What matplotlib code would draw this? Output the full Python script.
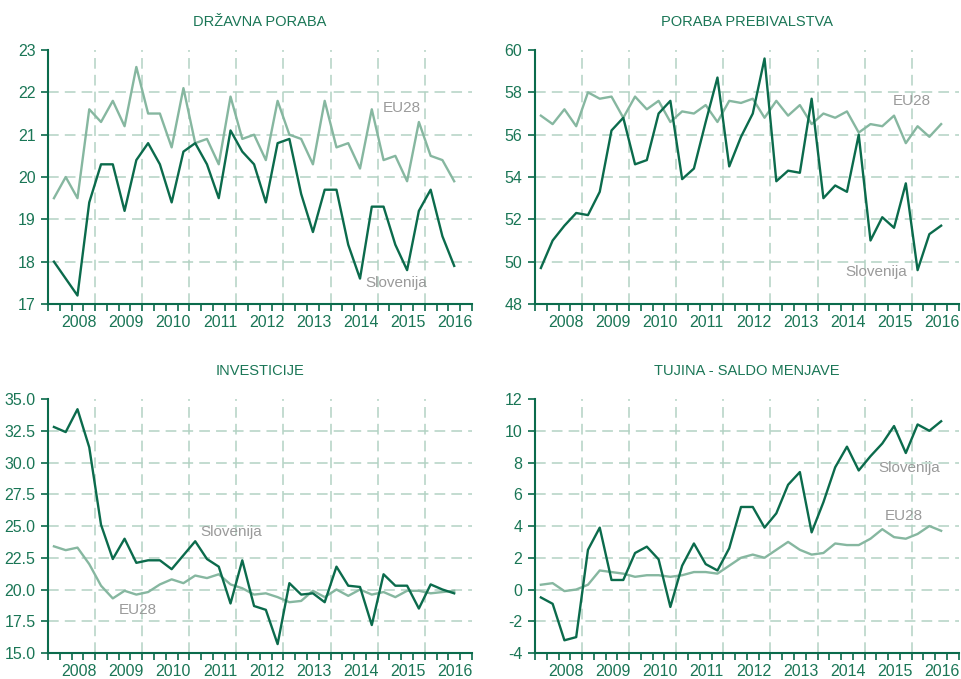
import numpy as np
import matplotlib
matplotlib.use("Agg")
import matplotlib.pyplot as plt

plt.rcParams['font.family'] = ['Liberation Sans Narrow', 'Liberation Sans', 'DejaVu Sans']

# četrtletja 2008Q1 - 2016Q3
years = ["2008", "2009", "2010", "2011", "2012", "2013", "2014", "2015", "2016"]

drz_slo = [18.0, 17.6, 17.2, 19.4, 20.3, 20.3, 19.2, 20.4, 20.8, 20.3, 19.4, 20.6,
           20.8, 20.3, 19.5, 21.1, 20.6, 20.3, 19.4, 20.8, 20.9, 19.6, 18.7, 19.7,
           19.7, 18.4, 17.6, 19.3, 19.3, 18.4, 17.8, 19.2, 19.7, 18.6, 17.9]
drz_eu = [19.5, 20.0, 19.5, 21.6, 21.3, 21.8, 21.2, 22.6, 21.5, 21.5, 20.7, 22.1,
          20.8, 20.9, 20.3, 21.9, 20.9, 21.0, 20.4, 21.8, 21.0, 20.9, 20.3, 21.8,
          20.7, 20.8, 20.2, 21.6, 20.4, 20.5, 19.9, 21.3, 20.5, 20.4, 19.9]

preb_slo = [49.7, 51.0, 51.7, 52.3, 52.2, 53.3, 56.2, 56.8, 54.6, 54.8, 57.0, 57.6,
            53.9, 54.4, 56.6, 58.7, 54.5, 55.9, 57.0, 59.6, 53.8, 54.3, 54.2, 57.7,
            53.0, 53.6, 53.3, 56.0, 51.0, 52.1, 51.6, 53.7, 49.6, 51.3, 51.7]
preb_eu = [56.9, 56.5, 57.2, 56.4, 58.0, 57.7, 57.8, 56.8, 57.8, 57.2, 57.6, 56.6,
           57.1, 57.0, 57.4, 56.6, 57.6, 57.5, 57.7, 56.8, 57.6, 56.9, 57.4, 56.5,
           57.0, 56.8, 57.1, 56.1, 56.5, 56.4, 56.9, 55.6, 56.4, 55.9, 56.5]

inv_slo = [32.8, 32.4, 34.2, 31.2, 25.1, 22.4, 24.0, 22.1, 22.3, 22.3, 21.6, 22.7,
           23.8, 22.4, 21.8, 18.9, 22.3, 18.7, 18.4, 15.7, 20.5, 19.6, 19.7, 19.0,
           21.8, 20.3, 20.2, 17.2, 21.2, 20.3, 20.3, 18.5, 20.4, 20.0, 19.7]
inv_eu = [23.4, 23.1, 23.3, 22.0, 20.3, 19.3, 19.9, 19.6, 19.8, 20.4, 20.8, 20.5,
          21.1, 20.9, 21.2, 20.4, 20.1, 19.6, 19.7, 19.4, 19.0, 19.1, 19.9, 19.4,
          20.0, 19.5, 20.0, 19.6, 19.8, 19.4, 19.9, 19.9, 19.7, 19.8, 19.9]

tuj_slo = [-0.5, -0.9, -3.2, -3.0, 2.5, 3.9, 0.6, 0.6, 2.3, 2.7, 1.9, -1.1,
           1.5, 2.9, 1.6, 1.2, 2.6, 5.2, 5.2, 3.9, 4.8, 6.6, 7.4, 3.6,
           5.5, 7.7, 9.0, 7.5, 8.4, 9.2, 10.3, 8.6, 10.4, 10.0, 10.6]
tuj_eu = [0.3, 0.4, -0.1, 0.0, 0.3, 1.2, 1.1, 1.0, 0.8, 0.9, 0.9, 0.8,
          0.9, 1.1, 1.1, 1.0, 1.5, 2.0, 2.2, 2.0, 2.5, 3.0, 2.5, 2.2,
          2.3, 2.9, 2.8, 2.8, 3.2, 3.8, 3.3, 3.2, 3.5, 4.0, 3.7]

DARK = "#0b6b4c"
LIGHT = "#86b7a0"
GRID = "#b3d2c3"
GREY = "#9a9a9a"
TXT = "#1a7656"

panels = [
    ("DRŽAVNA PORABA", drz_slo, drz_eu, (17, 23), np.arange(17, 24, 1), "{:.0f}",
     (30.05, 21.63), (29.6, 17.49)),
    ("PORABA PREBIVALSTVA", preb_slo, preb_eu, (48, 60), np.arange(48, 61, 2), "{:.0f}",
     (32.0, 57.6), (29.0, 49.5)),
    ("INVESTICIJE", inv_slo, inv_eu, (15, 35), np.arange(15, 35.1, 2.5), "{:.1f}",
     (7.6, 18.4), (15.6, 24.5)),
    ("TUJINA - SALDO MENJAVE", tuj_slo, tuj_eu, (-4, 12), np.arange(-4, 13, 2), "{:.0f}",
     (31.3, 4.63), (31.75, 7.65)),
]

fig = plt.figure(figsize=(9.61, 6.79), dpi=100)
rects = [[0.050, 0.5523, 0.441, 0.374], [0.5567, 0.5523, 0.441, 0.374],
         [0.050, 0.0383, 0.441, 0.374], [0.5567, 0.0383, 0.441, 0.374]]

for rect, (title, slo, eu, ylim, yt, fmt, eu_pos, slo_pos) in zip(rects, panels):
    ax = fig.add_axes(rect)
    x = np.arange(len(slo)) + 0.5
    n_q = 4 * len(years)

    # mreža
    for v in yt[1:-1]:
        ax.axhline(v, color=GRID, lw=1.1, dashes=(7, 4), zorder=1)
    for q in range(4, n_q, 4):
        ax.axvline(q, color=GRID, lw=1.1, dashes=(7, 4), zorder=1)

    ax.plot(x, eu, color=LIGHT, lw=1.7, zorder=3)
    ax.plot(x, slo, color=DARK, lw=1.7, zorder=4)

    ax.text(eu_pos[0], eu_pos[1], "EU28", color=GREY, fontsize=11, ha="center", va="center")
    ax.text(slo_pos[0], slo_pos[1], "Slovenija", color=GREY, fontsize=11, ha="center", va="center")

    ax.set_xlim(0, n_q)
    ax.set_ylim(*ylim)
    ax.set_yticks(yt)
    ax.set_yticklabels([fmt.format(v) for v in yt])
    ax.set_xticks(np.arange(len(years)) * 4 + 2.6)
    ax.set_xticklabels(years)
    ax.set_xticks(np.arange(0, n_q + 1), minor=True)
    ax.tick_params(axis="x", which="major", length=0, pad=8, labelsize=11.5, labelcolor=TXT)
    ax.tick_params(axis="x", which="minor", length=5, width=1.2, color=DARK, direction="out")
    ax.tick_params(axis="y", length=5, width=1.2, color=DARK, pad=4, labelsize=11.5, labelcolor=TXT)

    for s in ["top", "right"]:
        ax.spines[s].set_visible(False)
    for s in ["left", "bottom"]:
        ax.spines[s].set_color(DARK)
        ax.spines[s].set_linewidth(1.5)
    ax.set_title(title, color=TXT, fontsize=10.5, pad=17)

fig.savefig("out.png", dpi=100)
